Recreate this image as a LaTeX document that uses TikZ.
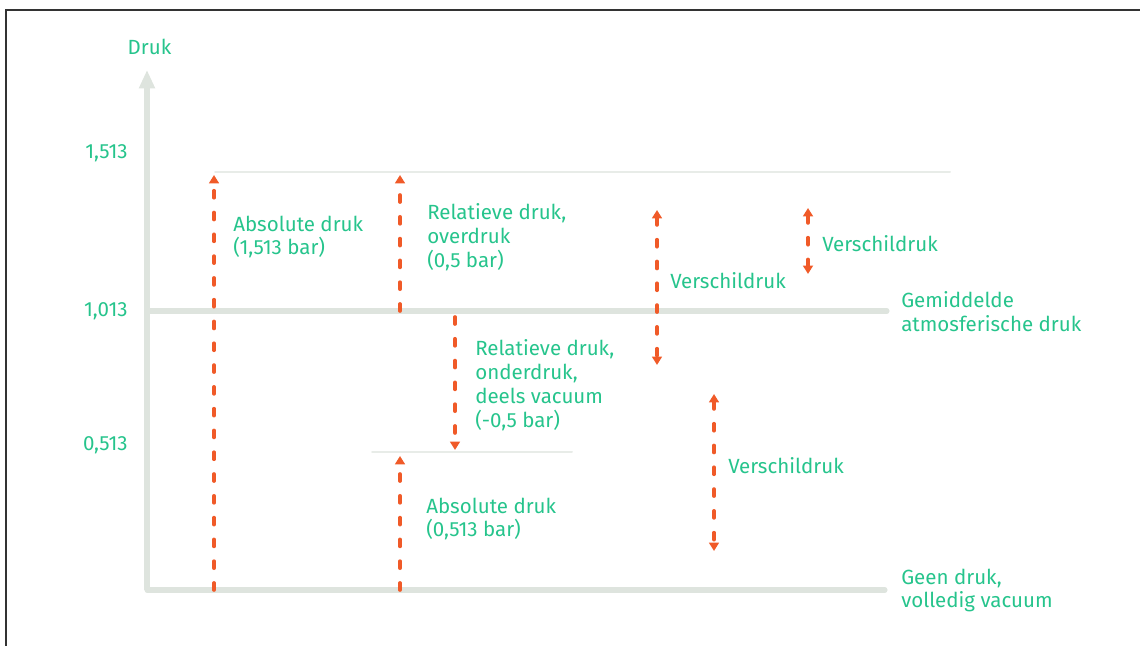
\documentclass[tikz,border=0pt]{standalone}
\usepackage{fontspec}
\setmainfont{Fira Sans}
\usepackage{tkz-euclide}
\usepackage{xcolor}
\usetikzlibrary{arrows.meta}
\definecolor{drukgreen}{RGB}{38,196,140}
\definecolor{drukorange}{RGB}{240,90,40}
\definecolor{drukgray}{RGB}{222,228,222}

\begin{document}
\begin{tikzpicture}[x=0.25cm,y=0.25cm,
    lbl/.style={text=drukgreen,font=\fontsize{14.6}{17}\selectfont,align=left,anchor=west,inner sep=0pt},
    tick/.style={lbl,anchor=east},
    axisline/.style={drukgray,line width=3.6pt},
    thinline/.style={drukgray!70,line width=1.4pt},
    pijl/.style={drukorange,line width=2.6pt,dash pattern=on 5pt off 10.5pt,
      -{Triangle[width=7pt,length=6pt]}},
    dubbelpijl/.style={pijl,{Triangle[width=7pt,length=6pt]}-{Triangle[width=7pt,length=6pt]}}]
    \useasboundingbox (0,0) rectangle (114,64.6);
    \draw[black!80,line width=1.4pt] (0.6,0) -- (0.6,63.6) -- (114,63.6);
    % axes and levels
    \tkzDefPoints{14.7/5.6/O,14.7/57.6/Top,88.5/5.6/E,
      14.7/33.5/Ma,88.7/33.5/Mb,21.5/47.4/Ta,95.0/47.4/Tb,37.2/19.4/La,57.2/19.4/Lb}
    \draw[axisline,-{Triangle[width=10.7pt,length=13pt]}] (O) -- (Top);
    \tkzDrawSegments[axisline](O,E Ma,Mb)
    \tkzDrawSegments[thinline](Ta,Tb La,Lb)
    % arrows
    \tkzDefPoints{21.4/5.6/P1,21.4/47.1/Q1,40.0/33.5/P2,40.0/47.1/Q2,
      45.5/32.9/P3,45.5/19.6/Q3,40.0/5.6/P4,40.0/19.0/Q4,
      65.7/43.6/P5,65.7/28.1/Q5,80.8/43.8/P6,80.8/37.2/Q6,71.4/25.2/P7,71.4/9.5/Q7}
    \tkzDrawSegments[pijl](P1,Q1 P2,Q2 P3,Q3 P4,Q4)
    \tkzDrawSegments[dubbelpijl](P5,Q5 P6,Q6 P7,Q7)
    % labels
    \node[lbl,anchor=center] (druk) at (14.95,59.9) {Druk};
    \node[tick] (t1) at (12.8,49.3) {1,513};
    \node[tick] (t2) at (12.8,33.5) {1,013};
    \node[tick] (t3) at (12.8,20.1) {0,513};
    \node[lbl] (abs1) at (23.3,40.9) {Absolute druk\\(1,513 bar)};
    \node[lbl] (over) at (42.7,40.9) {Relatieve druk,\\overdruk\\(0,5 bar)};
    \node[lbl] (vs1) at (67.0,36.5) {Verschildruk};
    \node[lbl] (vs2) at (82.2,40.2) {Verschildruk};
    \node[lbl] (atm) at (90.1,33.45) {Gemiddelde\\atmosferische druk};
    \node[lbl] (onder) at (47.5,26.1) {Relatieve druk,\\onderdruk,\\deels vacuum\\(-0,5 bar)};
    \node[lbl] (vs3) at (72.8,18.0) {Verschildruk};
    \node[lbl] (abs2) at (42.6,12.7) {Absolute druk\\(0,513 bar)};
    \node[lbl] (geen) at (90.1,5.55) {Geen druk,\\volledig vacuum};
\end{tikzpicture}
\end{document}
